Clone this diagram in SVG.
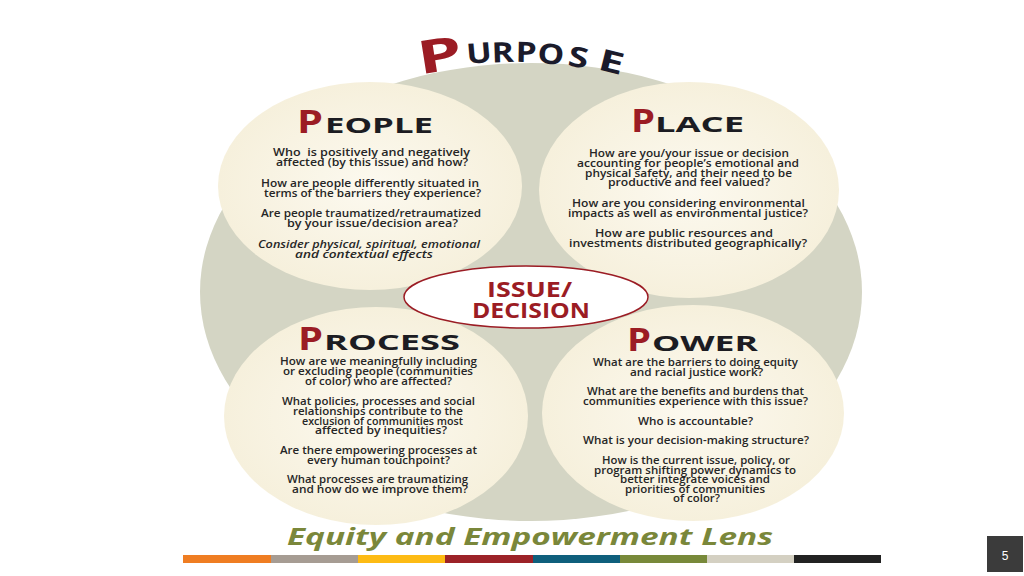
<svg xmlns="http://www.w3.org/2000/svg" width="1024" height="576" viewBox="0 0 1024 576">
<defs>
<radialGradient id="cream" cx="50%" cy="50%" r="50%">
<stop offset="0" stop-color="#fcf9ef"/>
<stop offset="1" stop-color="#f6f0dc"/>
</radialGradient>
<style>
.c{fill:url(#cream);}
.t{font-family:"Open Sans","Liberation Sans",sans-serif;font-weight:600;font-size:9.8px;fill:#262626;}
.i{font-style:italic;}
.hp{font-family:"Open Sans","Liberation Sans",sans-serif;font-weight:700;font-size:32px;fill:#9b1c24;}
.hr{font-family:"Open Sans","Liberation Sans",sans-serif;font-weight:700;font-size:21px;fill:#1c1c22;}
.pu{font-family:"Open Sans","Liberation Sans",sans-serif;font-weight:700;font-size:28px;fill:#1b1b2b;text-anchor:middle;}
.id{font-family:"Open Sans","Liberation Sans",sans-serif;font-weight:700;font-size:22px;fill:#9b1c24;}
</style>
</defs>
<rect width="1024" height="576" fill="#ffffff"/>
<g id="purpose">
<ellipse cx="531" cy="292" rx="331" ry="229" fill="#d4d5c4"/>
<text class="pu" transform="translate(442,71) rotate(-9) scale(1.55,1)" style="font-size:46px;fill:#9b1c24">P</text>
<text class="pu" transform="translate(480,63) rotate(-5) scale(1.2,1)">U</text>
<text class="pu" transform="translate(503,62) rotate(-2) scale(1.2,1)">R</text>
<text class="pu" transform="translate(526,62) rotate(1) scale(1.2,1)">P</text>
<text class="pu" transform="translate(550,64) rotate(5) scale(1.2,1)">O</text>
<text class="pu" transform="translate(577,67) rotate(9) scale(1.3,1)">S</text>
<text class="pu" transform="translate(609,72) rotate(14) scale(1.5,1)" style="font-size:30px">E</text>
</g>
<g id="people">
<ellipse class="c" cx="370" cy="186" rx="152" ry="104"/>
<text class="hp" x="297" y="133" textLength="26" lengthAdjust="spacingAndGlyphs">P</text>
<text class="hr" x="325" y="133" textLength="108" lengthAdjust="spacingAndGlyphs">EOPLE</text>
<text class="t" x="273" y="156" textLength="197" lengthAdjust="spacingAndGlyphs" xml:space="preserve">Who  is positively and negatively</text>
<text class="t" x="276" y="166" textLength="192" lengthAdjust="spacingAndGlyphs">affected (by this issue) and how?</text>
<text class="t" x="261" y="187" textLength="218" lengthAdjust="spacingAndGlyphs">How are people differently situated in</text>
<text class="t" x="264" y="197" textLength="217" lengthAdjust="spacingAndGlyphs">terms of the barriers they experience?</text>
<text class="t" x="261" y="217" textLength="220" lengthAdjust="spacingAndGlyphs">Are people traumatized/retraumatized</text>
<text class="t" x="287" y="227" textLength="171" lengthAdjust="spacingAndGlyphs">by your issue/decision area?</text>
<text class="t i" x="258" y="248" textLength="222" lengthAdjust="spacingAndGlyphs">Consider physical, spiritual, emotional</text>
<text class="t i" x="295" y="258" textLength="138" lengthAdjust="spacingAndGlyphs">and contextual effects</text>
</g>
<g id="place">
<ellipse class="c" cx="689" cy="190" rx="150" ry="108"/>
<text class="hp" x="631" y="132" textLength="24" lengthAdjust="spacingAndGlyphs">P</text>
<text class="hr" x="655" y="132" textLength="89" lengthAdjust="spacingAndGlyphs">LACE</text>
<text class="t" x="589" y="157" textLength="200" lengthAdjust="spacingAndGlyphs">How are you/your issue or decision</text>
<text class="t" x="577" y="167" textLength="222" lengthAdjust="spacingAndGlyphs">accounting for people’s emotional and</text>
<text class="t" x="585" y="176.5" textLength="207" lengthAdjust="spacingAndGlyphs">physical safety, and their need to be</text>
<text class="t" x="608" y="186" textLength="162" lengthAdjust="spacingAndGlyphs">productive and feel valued?</text>
<text class="t" x="572" y="207" textLength="233" lengthAdjust="spacingAndGlyphs">How are you considering environmental</text>
<text class="t" x="568" y="217" textLength="240" lengthAdjust="spacingAndGlyphs">impacts as well as environmental justice?</text>
<text class="t" x="595" y="237" textLength="178" lengthAdjust="spacingAndGlyphs">How are public resources and</text>
<text class="t" x="569" y="247" textLength="238" lengthAdjust="spacingAndGlyphs">investments distributed geographically?</text>
</g>
<g id="process">
<ellipse class="c" cx="376" cy="416" rx="152" ry="109"/>
<text class="hp" x="298" y="350" textLength="25" lengthAdjust="spacingAndGlyphs">P</text>
<text class="hr" x="324" y="350" textLength="136" lengthAdjust="spacingAndGlyphs">ROCESS</text>
<text class="t" x="280" y="365" textLength="197" lengthAdjust="spacingAndGlyphs">How are we meaningfully including</text>
<text class="t" x="283" y="375" textLength="190" lengthAdjust="spacingAndGlyphs">or excluding people (communities</text>
<text class="t" x="305" y="384.5" textLength="147" lengthAdjust="spacingAndGlyphs">of color) who are affected?</text>
<text class="t" x="282" y="405" textLength="193" lengthAdjust="spacingAndGlyphs">What policies, processes and social</text>
<text class="t" x="293" y="415" textLength="170" lengthAdjust="spacingAndGlyphs">relationships contribute to the</text>
<text class="t" x="302" y="424.5" textLength="161" lengthAdjust="spacingAndGlyphs">exclusion of communities most</text>
<text class="t" x="315" y="434" textLength="132" lengthAdjust="spacingAndGlyphs">affected by inequities?</text>
<text class="t" x="280" y="454" textLength="197" lengthAdjust="spacingAndGlyphs">Are there empowering processes at</text>
<text class="t" x="307" y="464" textLength="143" lengthAdjust="spacingAndGlyphs">every human touchpoint?</text>
<text class="t" x="287" y="483" textLength="181" lengthAdjust="spacingAndGlyphs">What processes are traumatizing</text>
<text class="t" x="292" y="493" textLength="176" lengthAdjust="spacingAndGlyphs">and how do we improve them?</text>
</g>
<g id="power">
<ellipse class="c" cx="693" cy="413" rx="151" ry="108"/>
<text class="hp" x="627" y="351" textLength="24" lengthAdjust="spacingAndGlyphs">P</text>
<text class="hr" x="652" y="351" textLength="106" lengthAdjust="spacingAndGlyphs">OWER</text>
<text class="t" x="593" y="366" textLength="205" lengthAdjust="spacingAndGlyphs">What are the barriers to doing equity</text>
<text class="t" x="630" y="375.5" textLength="133" lengthAdjust="spacingAndGlyphs">and racial justice work?</text>
<text class="t" x="587" y="395" textLength="217" lengthAdjust="spacingAndGlyphs">What are the benefits and burdens that</text>
<text class="t" x="583" y="405" textLength="225" lengthAdjust="spacingAndGlyphs">communities experience with this issue?</text>
<text class="t" x="638" y="425" textLength="115" lengthAdjust="spacingAndGlyphs">Who is accountable?</text>
<text class="t" x="583" y="444" textLength="226" lengthAdjust="spacingAndGlyphs">What is your decision-making structure?</text>
<text class="t" x="602" y="464" textLength="188" lengthAdjust="spacingAndGlyphs">How is the current issue, policy, or</text>
<text class="t" x="594" y="473.5" textLength="202" lengthAdjust="spacingAndGlyphs">program shifting power dynamics to</text>
<text class="t" x="620" y="483" textLength="150" lengthAdjust="spacingAndGlyphs">better integrate voices and</text>
<text class="t" x="625" y="492.5" textLength="140" lengthAdjust="spacingAndGlyphs">priorities of communities</text>
<text class="t" x="673" y="502" textLength="47" lengthAdjust="spacingAndGlyphs">of color?</text>
</g>
<g id="issue">
<ellipse cx="526" cy="297" rx="122" ry="31" fill="#ffffff" stroke="#9b1c24" stroke-width="1.5"/>
<text class="id" x="487" y="297" textLength="85" lengthAdjust="spacingAndGlyphs">ISSUE/</text>
<text class="id" x="472" y="318" textLength="118" lengthAdjust="spacingAndGlyphs">DECISION</text>
</g>
<g id="connectors"/>
<g id="footer">
<text x="287" y="545" textLength="486" lengthAdjust="spacingAndGlyphs" style="font-family:'Open Sans','Liberation Sans',sans-serif;font-weight:700;font-style:italic;font-size:24px;fill:#7a873a">Equity and Empowerment Lens</text>
<rect x="183" y="555" width="88" height="8" fill="#ef7d22"/>
<rect x="271" y="555" width="87" height="8" fill="#a69c93"/>
<rect x="358" y="555" width="87" height="8" fill="#fdbb14"/>
<rect x="445" y="555" width="88" height="8" fill="#9c2228"/>
<rect x="533" y="555" width="87" height="8" fill="#0f5f7c"/>
<rect x="620" y="555" width="87" height="8" fill="#78893a"/>
<rect x="707" y="555" width="87" height="8" fill="#d4d0c2"/>
<rect x="794" y="555" width="87" height="8" fill="#222222"/>
</g>
<g id="page">
<rect x="987" y="536" width="36" height="36" fill="#3b3b3b"/>
<text x="1005" y="560" text-anchor="middle" style="font-family:'Liberation Sans',sans-serif;font-size:12px;fill:#ffffff">5</text>
</g>
</svg>
